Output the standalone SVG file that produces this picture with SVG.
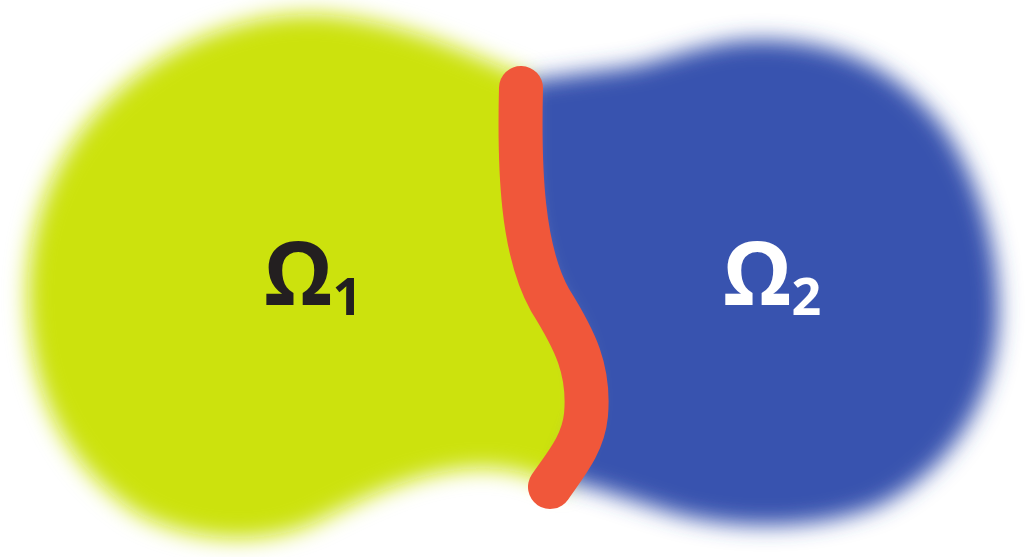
<svg xmlns="http://www.w3.org/2000/svg" width="1026" height="557" viewBox="0 0 1026 557">
<defs>
<filter id="soft" x="-10%" y="-10%" width="120%" height="120%"><feGaussianBlur stdDeviation="11"/></filter>
<style>
.lbl{font-family:"Open Sans","Noto Sans","Liberation Sans",sans-serif;font-weight:bold;}
</style>
</defs>
<rect width="1026" height="557" fill="#ffffff"/>
<g id="omega1-region">
<path filter="url(#soft)" fill="#CCE210" d="M530,78 C480,60 420,25 330,15 C240,8 150,50 90,120 C40,180 25,250 28,310 C32,400 70,470 140,515 C200,545 270,545 320,520 C370,495 420,470 480,468 C520,468 545,480 565,490 L585,420 C590,380 580,340 560,310 C535,270 525,210 525,150 Z"/>
</g>
<g id="omega2-region">
<path filter="url(#soft)" fill="#3953AF" d="M525,82 C560,75 600,72 640,65 C680,55 720,38 770,40 C840,42 900,70 945,130 C985,190 1000,260 998,320 C995,400 950,470 880,505 C820,530 740,530 680,515 C630,500 590,485 560,480 L585,420 C590,380 580,340 560,310 C535,270 525,210 525,150 Z"/>
</g>
<g id="interface">
<path d="M521,88 C519,170 522,250 550,300 C575,340 590,370 586,415 C583,445 565,465 550,487" fill="none" stroke="#F0573A" stroke-width="44" stroke-linecap="round"/>
</g>
<g id="label1">
<text class="lbl" x="264" y="305" font-size="87" fill="#231F20">Ω<tspan font-size="52" dy="10">1</tspan></text>
</g>
<g id="label2">
<text class="lbl" x="723" y="305" font-size="87" fill="#FFFFFF">Ω<tspan font-size="52" dy="10">2</tspan></text>
</g>
</svg>
